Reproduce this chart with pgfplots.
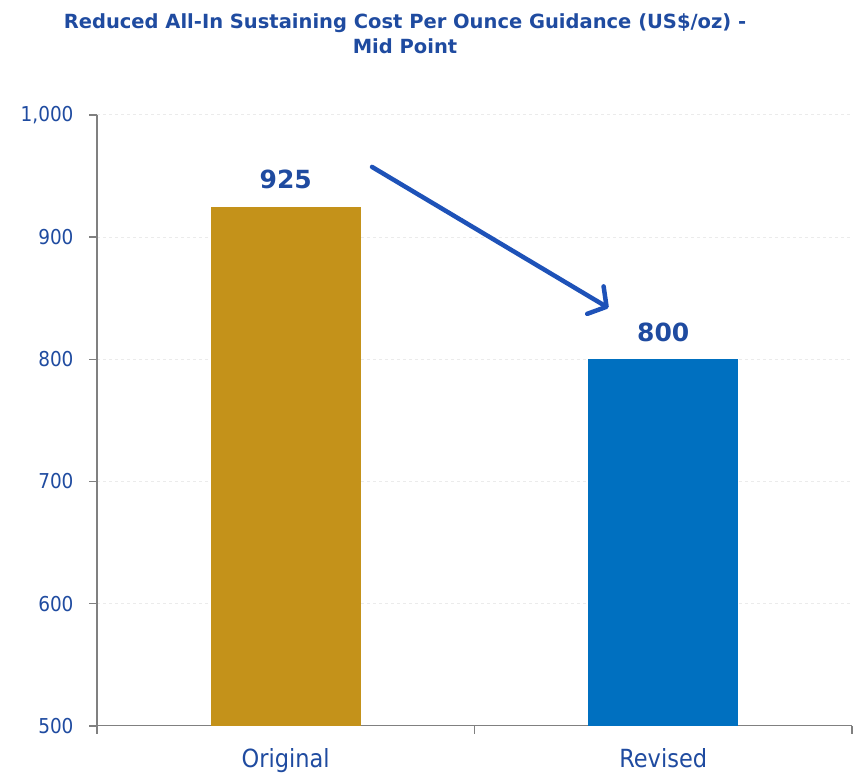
\documentclass[border=0pt]{standalone}
\usepackage{pgfplots}
\pgfplotsset{compat=1.18}
\usepackage{fontspec}
\setmainfont{DejaVu Sans}
\newfontfamily\tickfont{DejaVu Sans Condensed}
\usetikzlibrary{arrows.meta}
\definecolor{titleblue}{HTML}{1F4BA0}
\definecolor{gold}{HTML}{C4921A}
\definecolor{barblue}{HTML}{0070C0}
\definecolor{arrowblue}{HTML}{1E52B8}
\definecolor{axisgray}{HTML}{808080}

\begin{document}
\begin{tikzpicture}
\begin{axis}[
    scale only axis,
    width=755pt, height=611pt,
    xmin=-0.5, xmax=1.5,
    ymin=500, ymax=1000,
    axis x line*=bottom, axis y line*=left,
    axis line style={axisgray, line width=1.2pt},
    every tick/.style={axisgray, line width=1.2pt},
    ytick style={draw=axisgray, line width=1.4pt},
    tick align=outside,
    xtick={-0.5,0.5,1.5}, xticklabels={},
    major tick length=8pt,
    extra x ticks={0,1}, extra x tick labels={Original,Revised},
    extra x tick style={major tick length=0pt,
        xticklabel style={font=\tickfont\fontsize{25}{28}\selectfont, text=titleblue, yshift=-19pt}},
    ytick={500,600,700,800,900,1000},
    yticklabels={500,600,700,800,900,{1,000}},
    yticklabel style={font=\tickfont\fontsize{20.5}{24}\selectfont, text=titleblue, xshift=-12pt},
    ymajorgrids,
    grid style={dashed, black!8, line width=1pt},
    ybar, bar width=150pt,
    nodes near coords,
    nodes near coords style={font=\bfseries\fontsize{25}{28}\selectfont, text=titleblue, yshift=14pt},
    /pgf/number format/assume math mode=true,
    clip=false,
]
\addplot[fill=gold, draw=none, bar shift=0pt] coordinates {(0,925)};
\addplot[fill=barblue, draw=none, bar shift=0pt] coordinates {(1,800)};
\draw[arrowblue, line width=4.5pt, line cap=round,
      -{Straight Barb[length=13pt, width=32pt, line width=4.5pt, round]}]
      (axis cs:0.2285,957.4) -- (axis cs:0.855,842);
\node[font=\bfseries\fontsize{19.5}{25}\selectfont, text=titleblue, align=center]
      at (rel axis cs:0.408,1.133) {Reduced All-In Sustaining Cost Per Ounce Guidance (US\$/oz) -\\Mid Point};
\coordinate (bl) at (rel axis cs:-0.1285,-0.0818);
\coordinate (tr) at (rel axis cs:1.0093,1.188);
\end{axis}
\pgfresetboundingbox
\path (bl) rectangle (tr);
\end{tikzpicture}
\end{document}
